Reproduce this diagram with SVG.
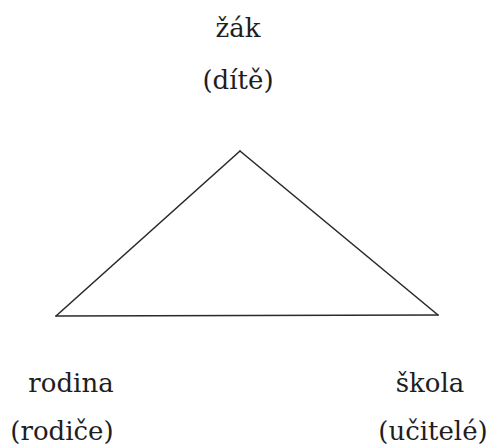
<svg xmlns="http://www.w3.org/2000/svg" width="489" height="448" viewBox="0 0 489 448">
<style>
text{font-family:'DejaVu Serif','Liberation Serif',serif;font-size:26px;fill:#1e1e1e;text-anchor:middle}
.edge{stroke:#2a2a2a;stroke-width:1.6;fill:none;stroke-linecap:round}
</style>
<rect width="489" height="448" fill="#fff"/>
<g id="connectors">
<path class="edge" d="M56 316 L240 151"/>
<path class="edge" d="M240 151 L438 315"/>
<path class="edge" d="M56 316 L438 315"/>
</g>
<g id="zak"><text x="238" y="37">žák</text><text x="238" y="89">(dítě)</text></g>
<g id="rodina"><text x="71" y="392">rodina</text><text x="62" y="440">(rodiče)</text></g>
<g id="skola"><text x="430" y="392">škola</text><text x="433" y="440">(učitelé)</text></g>
</svg>
